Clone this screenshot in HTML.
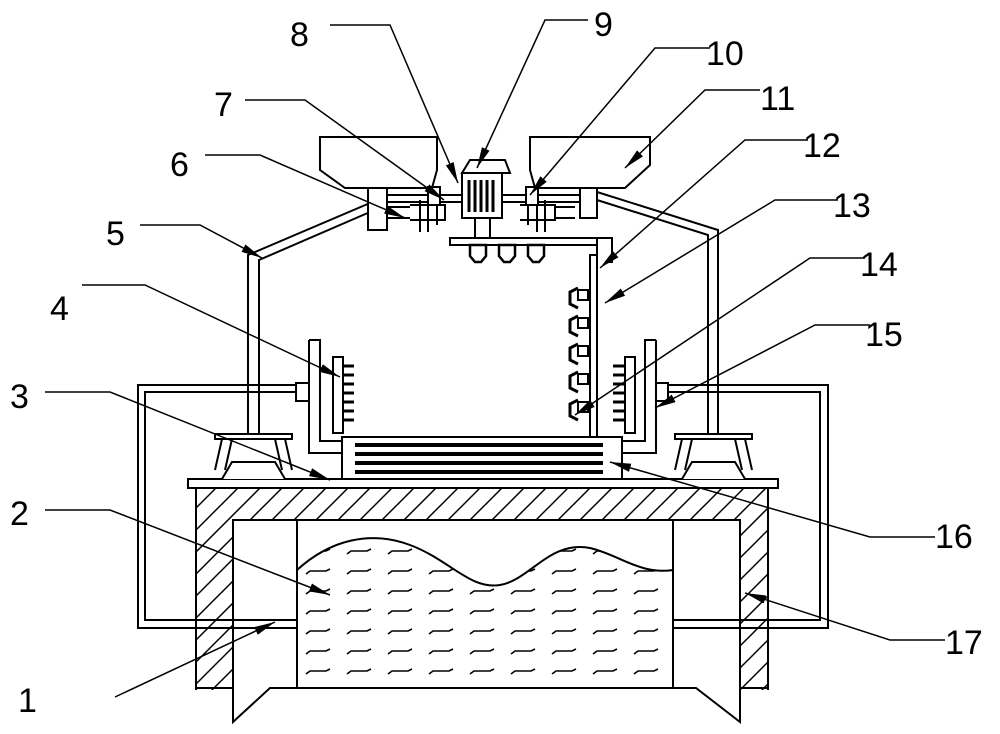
<!DOCTYPE html>
<html><head><meta charset="utf-8"><style>body{margin:0;background:#fff}svg{display:block}text{font-family:"Liberation Sans",sans-serif;font-size:34px;fill:#000}</style></head><body>
<svg width="1000" height="734" viewBox="0 0 1000 734" xmlns="http://www.w3.org/2000/svg">
<defs>
<pattern id="h" width="22" height="22" patternUnits="userSpaceOnUse"><path d="M0 22L22 0M-5 5L5-5M17 27L27 17" stroke="#000" stroke-width="1.5"/></pattern>
<pattern id="w" x="302" y="608" width="41" height="20" patternUnits="userSpaceOnUse"><path d="M4 6L8 3H24L28 1" stroke="#000" stroke-width="1.6" fill="none"/></pattern>
<marker id="a" viewBox="0 0 20 8" refX="20" refY="4" markerWidth="14" markerHeight="6" orient="auto"><path d="M0 0L20 4L0 8z" fill="#000"/></marker>
</defs>
<g fill="none" stroke="#000" stroke-width="2">
<path d="M196 488H768V690H740V520H233V690H196Z" fill="url(#h)" stroke="none"/>
<path d="M196 488V690M768 488V690M196 688H233M740 688H768"/>
<path d="M233 520H740V722L696 688H270L233 722Z" fill="#fff"/>
<path d="M297 520V688M673 520V688"/>
<path d="M297 570C330 540 370 530 410 545C450 560 470 590 500 585C530 580 550 540 590 548C620 555 640 575 673 570V688H297Z" fill="url(#w)"/>
<rect x="188" y="479" width="590" height="9" fill="#fff"/>
<path d="M296 385H138V628H297M296 392H145V620H297M668 385H828V628H673M668 392H820V620H673"/>
<path d="M248 440V255L370 203M259 440V260L370 212M708 440V235L597 200M718 440V230L597 192" />
<path d="M215 434H292V439H215Z M222 439L215 470M232 439L225 470M285 439L292 470M275 439L282 470 M222 479L232 462H275L285 479" fill="#fff"/>
<path d="M675 434H752V439H675Z M682 439L675 470M692 439L685 470M745 439L752 470M735 439L742 470 M682 479L692 462H735L745 479" fill="#fff"/>
<rect x="342" y="437" width="280" height="42" fill="#fff"/>
<g stroke-width="4"><path d="M355 445H603M355 454H603M355 463H603M355 472H603"/></g>
<path d="M309 340H320V441H342M309 340V453H342"/>
<rect x="296" y="383" width="13" height="18" fill="#fff"/>
<rect x="333" y="357" width="10" height="76" fill="#fff"/>
<path d="M343 366H354M343 375H354M343 384H354M343 393H354M343 402H354M343 411H354M343 420H354" stroke-width="3"/>
<path d="M656 340H645V441H622M656 340V453H622"/>
<rect x="656" y="383" width="12" height="18" fill="#fff"/>
<rect x="625" y="357" width="10" height="76" fill="#fff"/>
<path d="M613 366H625M613 375H625M613 384H625M613 393H625M613 402H625M613 411H625M613 420H625" stroke-width="3"/>
<rect x="590" y="255" width="7" height="182" fill="#fff"/>
<path d="M597 255V245M605 262H612V238H597"/>
<g fill="#fff"><rect x="578" y="290" width="10" height="10"/><rect x="578" y="318" width="10" height="10"/><rect x="578" y="346" width="10" height="10"/><rect x="578" y="374" width="10" height="10"/><rect x="578" y="402" width="10" height="10"/></g>
<path d="M578 288L570 292V304L578 308M578 316L570 320V332L578 336M578 344L570 348V360L578 364M578 372L570 376V388L578 392M578 400L570 404V416L578 420" stroke-width="3"/>
<path d="M320 137H437V170L432 188H345L320 170Z" fill="#fff"/>
<path d="M530 137H650V165L625 188H535L530 170Z" fill="#fff"/>
<rect x="368" y="188" width="19" height="42" fill="#fff"/>
<rect x="580" y="188" width="17" height="30" fill="#fff"/>
<path d="M387 195H580M387 202H580"/>
<path d="M387 207H410M387 218H410M555 207H575M555 218H575" />
<path d="M410 205H445V220H410M520 205H555V220H520" fill="#fff"/>
<path d="M420 200V232M428 200V232M437 205V225M528 205V225M537 200V232M545 200V232" />
<rect x="428" y="187" width="12" height="18" fill="#fff"/><rect x="526" y="187" width="12" height="18" fill="#fff"/>
<path d="M462 173L470 160H505L510 173Z" fill="#fff"/>
<rect x="462" y="173" width="40" height="45" fill="#fff"/>
<path d="M469 180V212M475 180V212M481 180V212M487 180V212M493 180V212" stroke-width="3"/>
<rect x="475" y="218" width="15" height="20" fill="#fff"/>
<rect x="450" y="238" width="147" height="7" fill="#fff"/>
<path d="M470 245H486V256L481 262H475L470 256ZM499 245H515V256L510 262H504L499 256ZM528 245H544V256L539 262H533L528 256Z" fill="#fff" stroke-width="2.5"/>
</g>
<g fill="none" stroke="#000" stroke-width="1.5" marker-end="url(#a)">
<path d="M115 697L275 622"/>
<path d="M45 510H110L330 595"/>
<path d="M45 392H110L330 480"/>
<path d="M82 285H145L340 377"/>
<path d="M140 225H200L262 258"/>
<path d="M205 155H260L405 218"/>
<path d="M245 100H305L444 200"/>
<path d="M330 25H390L458 183"/>
<path d="M588 20H545L477 168"/>
<path d="M710 48H655L530 195"/>
<path d="M760 90H705L625 168"/>
<path d="M808 140H745L600 268"/>
<path d="M838 200H775L605 303"/>
<path d="M865 258H810L575 415"/>
<path d="M870 325H815L655 408"/>
<path d="M935 537H870L610 462"/>
<path d="M945 640H890L745 593"/>
</g>
<text x="18" y="712">1</text><text x="10" y="525">2</text><text x="10" y="408">3</text>
<text x="50" y="320">4</text><text x="106" y="245">5</text><text x="170" y="176">6</text>
<text x="214" y="116">7</text><text x="290" y="46">8</text><text x="594" y="36">9</text>
<text x="706" y="65">10</text><text x="760" y="110">11</text><text x="803" y="157">12</text>
<text x="833" y="217">13</text><text x="860" y="276">14</text><text x="865" y="346">15</text>
<text x="935" y="548">16</text><text x="945" y="654">17</text>
</svg>
</body></html>
